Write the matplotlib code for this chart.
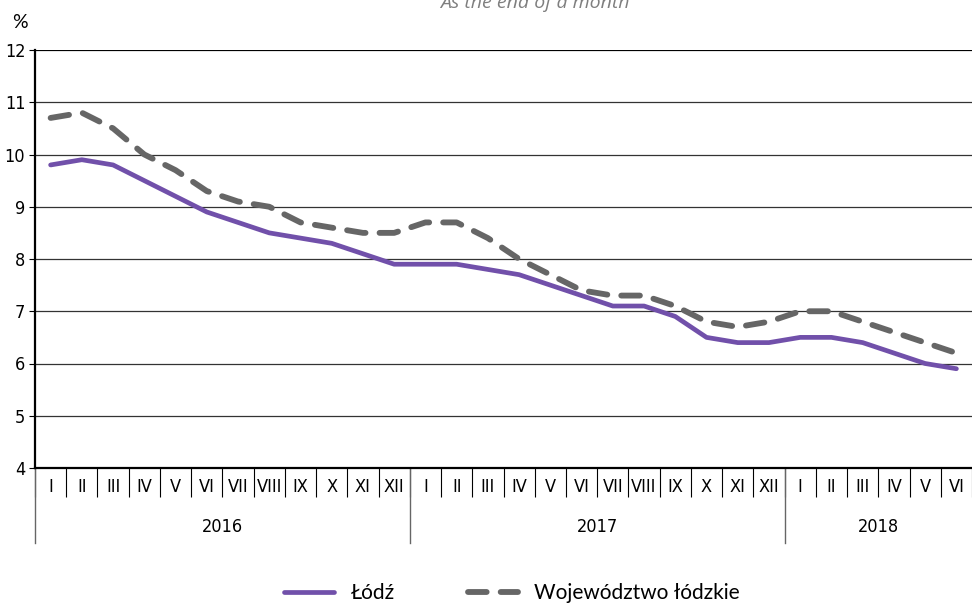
import numpy as np
import matplotlib
matplotlib.use("Agg")
from matplotlib import pyplot as plt
import matplotlib.transforms as mtransforms

# Dane
months = ["I", "II", "III", "IV", "V", "VI", "VII", "VIII", "IX", "X", "XI", "XII"]
years = ["2016", "2017", "2018"]
months_per_year = [12, 12, 6]
month_labels = months + months + months[:6]

lodz = [9.8, 9.9, 9.8, 9.5, 9.2, 8.9, 8.7, 8.5, 8.4, 8.3, 8.1, 7.9,
        7.9, 7.9, 7.8, 7.7, 7.5, 7.3, 7.1, 7.1, 6.9, 6.5, 6.4, 6.4,
        6.5, 6.5, 6.4, 6.2, 6.0, 5.9]
wojewodztwo = [10.7, 10.8, 10.5, 10.0, 9.7, 9.3, 9.1, 9.0, 8.7, 8.6, 8.5, 8.5,
               8.7, 8.7, 8.4, 8.0, 7.7, 7.4, 7.3, 7.3, 7.1, 6.8, 6.7, 6.8,
               7.0, 7.0, 6.8, 6.6, 6.4, 6.2]

label_font = ["Liberation Sans Narrow", "DejaVu Sans"]
legend_font = "Lato"

fig = plt.figure(figsize=(9.72, 6.03), dpi=100)
ax = fig.add_axes([35 / 972, 1 - 468 / 603, 1 - 35 / 972, (468 - 50) / 603])

x = np.arange(len(lodz)) + 0.5
ax.plot(x, wojewodztwo, color="#666666", lw=4.2, linestyle=(0, (3.2, 2.4)),
        dash_capstyle="round", solid_capstyle="round", label="Województwo łódzkie", zorder=3)
ax.plot(x, lodz, color="#7150aa", lw=3.4, solid_capstyle="round",
        solid_joinstyle="round", label="Łódź", zorder=4)

# Osie
ax.set_xlim(0, len(lodz))
ax.set_ylim(4, 12)
ax.set_yticks(range(4, 13))
for v in range(5, 12):
    ax.axhline(v, color="#333333", lw=0.9, zorder=1)
ax.axhline(12, color="black", lw=1.6, zorder=2)
for side in ["top", "right"]:
    ax.spines[side].set_visible(False)
ax.spines["left"].set_linewidth(1.6)
ax.spines["bottom"].set_linewidth(1.6)
ax.tick_params(axis="y", length=4, width=0.8, pad=3, labelsize=13)
for t in ax.get_yticklabels():
    t.set_fontfamily(label_font)
    t.set_fontstretch("condensed")

# Miesiace
ax.set_xticks(np.arange(0, len(lodz) + 1))
ax.set_xticklabels([])
ax.tick_params(axis="x", which="major", length=21, width=0.8, color="black")
ax.set_xticks(x, minor=True)
ax.set_xticklabels(month_labels, minor=True, fontsize=13, fontfamily=label_font,
                   fontstretch="condensed")
ax.tick_params(axis="x", which="minor", length=0, pad=7)

# Lata
trans = mtransforms.blended_transform_factory(ax.transData, ax.transAxes)
start = 0
for yr, n in zip(years, months_per_year):
    ax.plot([start, start], [0, -0.18], transform=trans, color="#666666",
            lw=1.0, clip_on=False)
    ax.text(start + n / 2, -0.14, yr, transform=trans, ha="center", va="center",
            fontsize=13, fontfamily=label_font, fontstretch="condensed")
    start += n

fig.text(20 / 972, 1 - 22 / 603, "%", ha="center", va="center", fontsize=14,
         fontfamily=legend_font)
fig.text(535 / 972, 1 - 3 / 603, "As the end of a month", ha="center", va="center",
         fontsize=14, style="italic", color="#7f7f7f", fontfamily="Open Sans")

handles, labels = ax.get_legend_handles_labels()
fig.legend(handles[::-1], labels[::-1], loc="center", bbox_to_anchor=(512 / 972, 1 - 593 / 603),
           ncol=2, frameon=False, prop={"family": legend_font, "size": 15},
           handlelength=2.4, columnspacing=3.5, handletextpad=0.8)

fig.savefig("out.png", dpi=100)
